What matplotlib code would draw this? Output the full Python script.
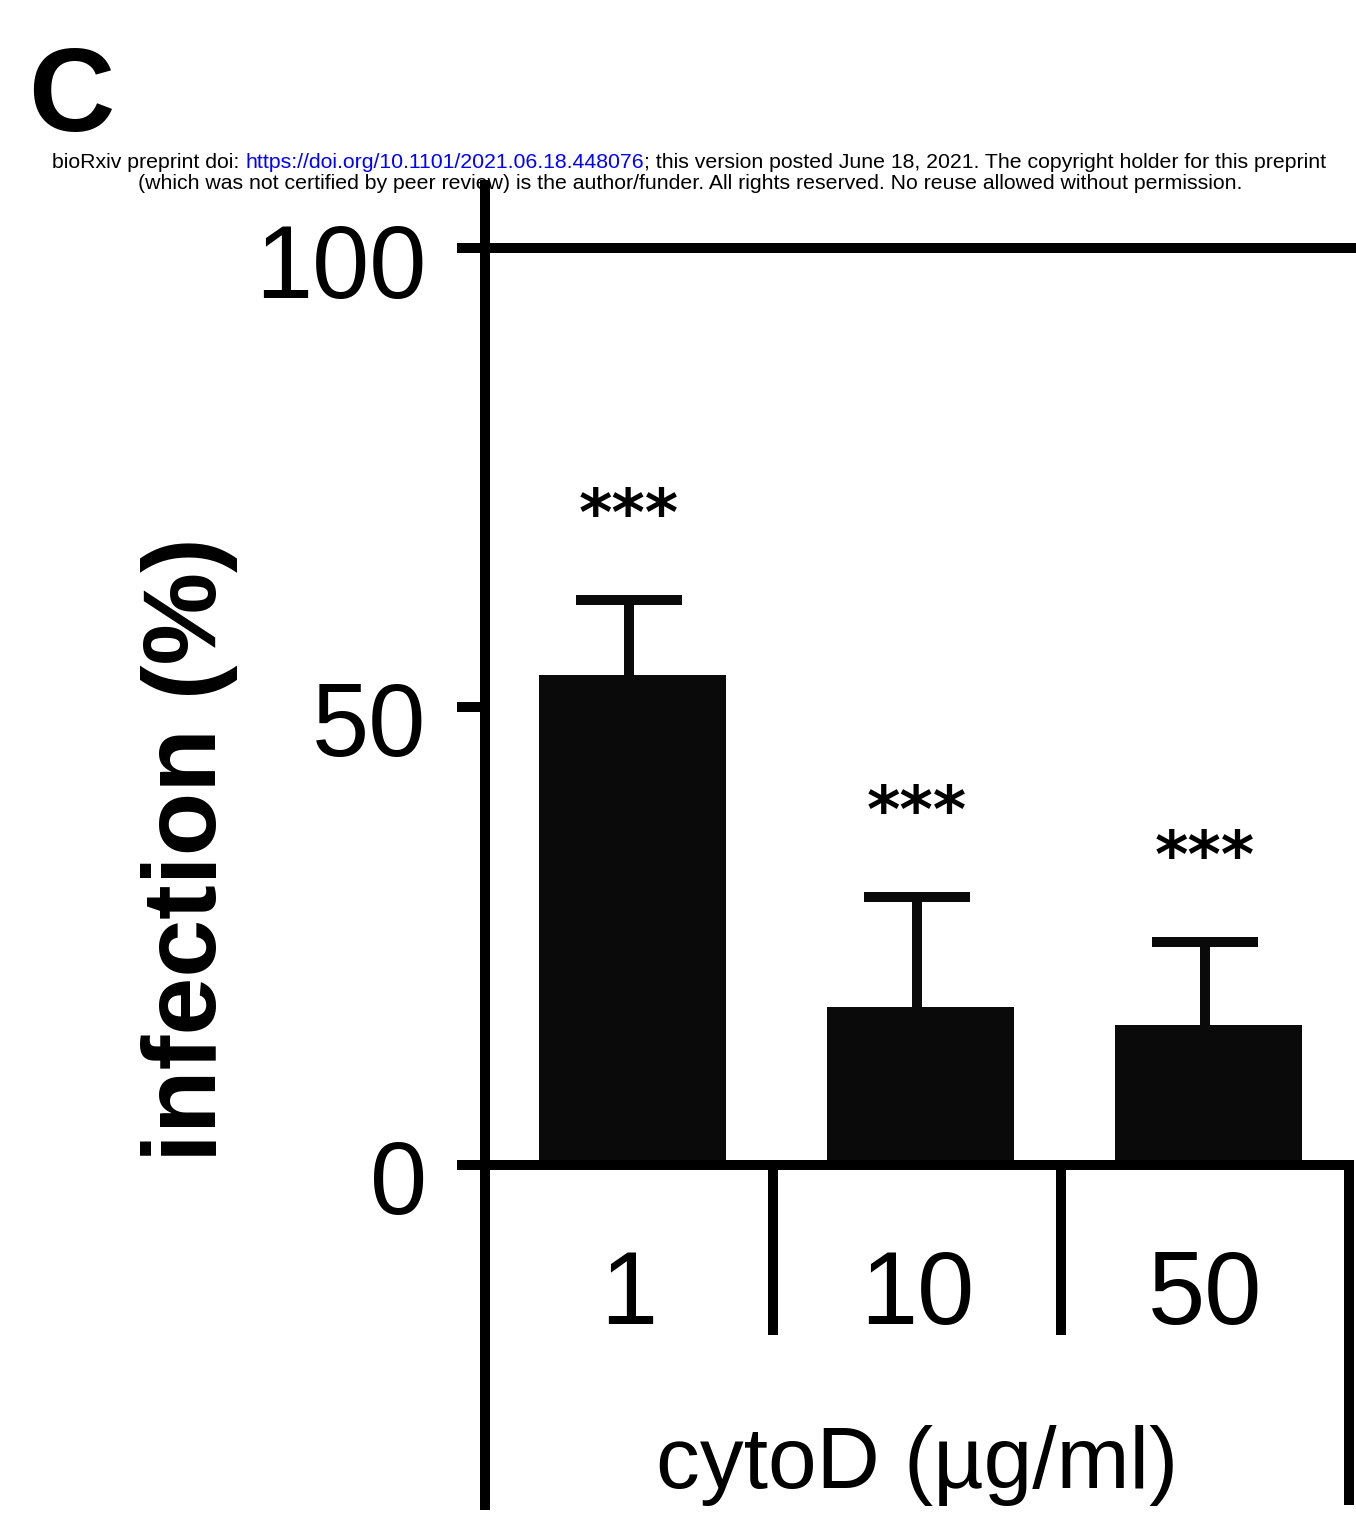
import matplotlib.pyplot as plt
from matplotlib.transforms import ScaledTranslation

plt.rcParams['font.family'] = ['Liberation Sans', 'DejaVu Sans']

# data
doses = ["1", "10", "50"]
infection = [53.4, 17.2, 15.3]
sd = [8.2, 12.0, 9.0]
stars = ["***", "***", "***"]
yticks = [0, 50, 100]
control = 100

W, H = 1356, 1519
fig = plt.figure(figsize=(W / 100, H / 100), dpi=100)

# axes: spine at x=485px, top at 185px, bottom at 1505px
ax = fig.add_axes([485 / W, 1 - 1505 / H, (W - 485) / W, (1505 - 185) / H])
xs = list(range(len(doses)))
lw = 7.2

ax.bar([x + 0.012 for x in xs], infection, width=0.65, color="#0a0a0a", zorder=2)
eb = ax.errorbar(xs, infection, yerr=[[0] * 3, sd], fmt="none", ecolor="#0a0a0a",
                 elinewidth=lw, capsize=38, capthick=lw, zorder=1)
eb[1][0].set_visible(False)  # only the upper cap

for x, m, s, st in zip(xs, infection, sd, stars):
    ax.text(x, m + s + 7.1, st, ha="center", va="baseline", fontsize=46,
            fontweight="bold", family="DejaVu Sans")

xmax = -0.5 + (W - 485) / 288
ax.set_xlim(-0.5, xmax)
ax.set_ylim(-37.1, 106.9)

# lines: control at 100, baseline at 0, table-like x axis
ax.plot([-0.5, xmax], [control, control], color="black", lw=lw, solid_capstyle="butt", clip_on=False)
ax.plot([-0.5, 2.5], [0, 0], color="black", lw=lw, solid_capstyle="projecting", clip_on=False)
for sx in [0.5, 1.5]:
    ax.plot([sx, sx], [0, -18.5], color="black", lw=lw, solid_capstyle="butt", clip_on=False)
ax.plot([2.5, 2.5], [0, -37.1], color="black", lw=lw, solid_capstyle="butt", clip_on=False)

for x, d in zip(xs, doses):
    ax.text(x, -17.4, d, ha="center", va="baseline", fontsize=74)
ax.text(1, -35.2, "cytoD (\u00b5g/ml)", ha="center", va="baseline", fontsize=63)

for side in ["top", "right", "bottom"]:
    ax.spines[side].set_visible(False)
ax.spines["left"].set_linewidth(lw)
ax.set_xticks([])
ax.set_yticks(yticks)
ax.tick_params(axis="y", length=20, width=lw, pad=22, labelsize=74)
off = ScaledTranslation(0, -0.12, fig.dpi_scale_trans)
for lab in ax.get_yticklabels():
    lab.set_transform(lab.get_transform() + off)

fig.text(190 / W, 1 - 850 / H, "infection (%)", rotation=90, ha="center", va="center",
         fontsize=75, fontweight="bold")

fig.text(28 / W, 1 - 131 / H, "C", fontsize=86, fontweight="bold", va="baseline")

# preprint header, middle part in blue
hs = 15.3
t1 = fig.text(52 / W, 1 - 168 / H, "bioRxiv preprint doi: ", fontsize=hs, va="baseline")
t2 = fig.text(0, 0, "https://doi.org/10.1101/2021.06.18.448076", fontsize=hs, color="blue",
              va="baseline", transform=fig.transFigure)
fig.canvas.draw()
bb = t1.get_window_extent()
t2.set_position((bb.x1 / W, 1 - 168 / H))
fig.canvas.draw()
bb = t2.get_window_extent()
fig.text(bb.x1 / W, 1 - 168 / H,
         "; this version posted June 18, 2021. The copyright holder for this preprint",
         fontsize=hs, va="baseline")
fig.text(690 / W, 1 - 189 / H,
         "(which was not certified by peer review) is the author/funder. All rights reserved. No reuse allowed without permission.",
         fontsize=hs, ha="center", va="baseline")

fig.savefig("out.png", dpi=100)
